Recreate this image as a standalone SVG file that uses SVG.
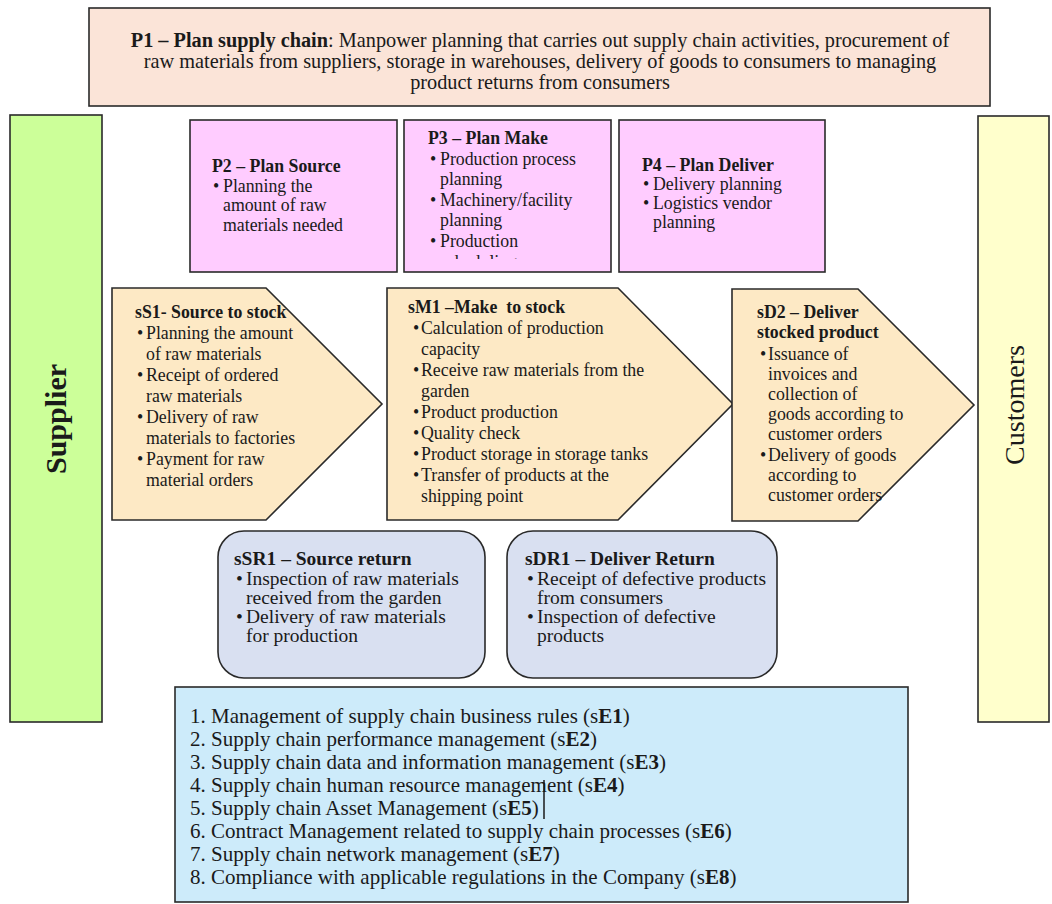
<svg xmlns="http://www.w3.org/2000/svg" width="1052" height="904" viewBox="0 0 1052 904">
<defs>
<style>
.box{stroke:#2a2a2a;stroke-width:1.6}
.t{font-family:"Liberation Serif","Times New Roman",serif;fill:#1a1a1a}
.b{font-weight:bold}
.p1{font-size:20.3px}
.pl{font-size:17.8px}
.ps{font-size:17.8px}
.rt{font-size:19.5px}
.li{font-size:21px}
</style>
<clipPath id="p3clip"><rect x="404" y="120" width="207" height="139"/></clipPath>
</defs>
<rect width="1052" height="904" fill="#ffffff"/>

<g id="p1">
<rect class="box" x="89" y="8" width="901" height="98" fill="#FBE4D8"/>
<text class="t p1" x="540" y="47" text-anchor="middle"><tspan class="b">P1 – Plan supply chain</tspan>: Manpower planning that carries out supply chain activities, procurement of</text>
<text class="t p1" x="540" y="68" text-anchor="middle">raw materials from suppliers, storage in warehouses, delivery of goods to consumers to managing</text>
<text class="t p1" x="540" y="89" text-anchor="middle">product returns from consumers</text>
</g>

<g id="supplier">
<rect class="box" x="10" y="115" width="92" height="607" fill="#CCFF99"/>
<text class="t b" x="0" y="0" font-size="30" text-anchor="middle" transform="translate(66,419) rotate(-90)">Supplier</text>
</g>

<g id="customers">
<rect class="box" x="978" y="116" width="71" height="606" fill="#FFFFCC"/>
<text class="t" x="0" y="0" font-size="28" text-anchor="middle" transform="translate(1024,405) rotate(-90)">Customers</text>
</g>

<g id="p2">
<rect class="box" x="190" y="120" width="207" height="152" fill="#FFCCFF"/>
<text class="t pl b" x="212" y="172">P2 – Plan Source</text>
<text class="t pl" x="213" y="192">•</text>
<text class="t pl" x="223" y="192">Planning the</text>
<text class="t pl" x="223" y="211">amount of raw</text>
<text class="t pl" x="223" y="231">materials needed</text>
</g>

<g id="p3">
<rect class="box" x="404" y="120" width="207" height="152" fill="#FFCCFF"/>
<text class="t pl b" x="428" y="144">P3 – Plan Make</text>
<text class="t pl" x="430" y="165">•</text>
<text class="t pl" x="440" y="165">Production process</text>
<text class="t pl" x="440" y="185">planning</text>
<text class="t pl" x="430" y="206">•</text>
<text class="t pl" x="440" y="206">Machinery/facility</text>
<text class="t pl" x="440" y="226">planning</text>
<text class="t pl" x="430" y="247">•</text>
<text class="t pl" x="440" y="247">Production</text>
<text class="t pl" x="440" y="268" clip-path="url(#p3clip)">scheduling</text>
</g>

<g id="p4">
<rect class="box" x="619" y="120" width="206" height="152" fill="#FFCCFF"/>
<text class="t pl b" x="642" y="171">P4 – Plan Deliver</text>
<text class="t pl" x="643" y="190">•</text>
<text class="t pl" x="653" y="190">Delivery planning</text>
<text class="t pl" x="643" y="209">•</text>
<text class="t pl" x="653" y="209">Logistics vendor</text>
<text class="t pl" x="653" y="228">planning</text>
</g>

<g id="sS1">
<polygon class="box" points="112,288 266,288 382,404 266,520 112,520" fill="#FDE9C5"/>
<text class="t ps b" x="135" y="318">sS1- Source to stock</text>
<text class="t ps" x="137" y="339">•</text>
<text class="t ps" x="146" y="339">Planning the amount</text>
<text class="t ps" x="146" y="360">of raw materials</text>
<text class="t ps" x="137" y="381">•</text>
<text class="t ps" x="146" y="381">Receipt of ordered</text>
<text class="t ps" x="146" y="402">raw materials</text>
<text class="t ps" x="137" y="423">•</text>
<text class="t ps" x="146" y="423">Delivery of raw</text>
<text class="t ps" x="146" y="444">materials to factories</text>
<text class="t ps" x="137" y="465">•</text>
<text class="t ps" x="146" y="465">Payment for raw</text>
<text class="t ps" x="146" y="486">material orders</text>
</g>

<g id="sM1">
<polygon class="box" points="387,288 618,288 733,404 618,520 387,520" fill="#FDE9C5"/>
<text class="t ps b" x="408" y="313">sM1 –Make&#160; to stock</text>
<text class="t ps" x="413" y="334">•</text>
<text class="t ps" x="421" y="334">Calculation of production</text>
<text class="t ps" x="421" y="355">capacity</text>
<text class="t ps" x="413" y="376">•</text>
<text class="t ps" x="421" y="376">Receive raw materials from the</text>
<text class="t ps" x="421" y="397">garden</text>
<text class="t ps" x="413" y="418">•</text>
<text class="t ps" x="421" y="418">Product production</text>
<text class="t ps" x="413" y="439">•</text>
<text class="t ps" x="421" y="439">Quality check</text>
<text class="t ps" x="413" y="460">•</text>
<text class="t ps" x="421" y="460">Product storage in storage tanks</text>
<text class="t ps" x="413" y="481">•</text>
<text class="t ps" x="421" y="481">Transfer of products at the</text>
<text class="t ps" x="421" y="502">shipping point</text>
</g>

<g id="sD2">
<polygon class="box" points="732,289 858,289 974,405 858,521 732,521" fill="#FDE9C5"/>
<text class="t ps b" x="757" y="318">sD2 – Deliver</text>
<text class="t ps b" x="757" y="338">stocked product</text>
<text class="t ps" x="760" y="360">•</text>
<text class="t ps" x="768" y="360">Issuance of</text>
<text class="t ps" x="768" y="380">invoices and</text>
<text class="t ps" x="768" y="400">collection of</text>
<text class="t ps" x="768" y="420">goods according to</text>
<text class="t ps" x="768" y="440">customer orders</text>
<text class="t ps" x="760" y="461">•</text>
<text class="t ps" x="768" y="461">Delivery of goods</text>
<text class="t ps" x="768" y="481">according to</text>
<text class="t ps" x="768" y="501">customer orders</text>
</g>

<g id="sSR1">
<rect class="box" x="218" y="531" width="267" height="147" rx="26" fill="#D9E0F1"/>
<text class="t rt b" x="234" y="565">sSR1 – Source return</text>
<text class="t rt" x="236" y="585">•</text>
<text class="t rt" x="246" y="585">Inspection of raw materials</text>
<text class="t rt" x="246" y="604">received from the garden</text>
<text class="t rt" x="236" y="623">•</text>
<text class="t rt" x="246" y="623">Delivery of raw materials</text>
<text class="t rt" x="246" y="642">for production</text>
</g>

<g id="sDR1">
<rect class="box" x="507" y="531" width="270" height="147" rx="26" fill="#D9E0F1"/>
<text class="t rt b" x="525" y="565">sDR1 – Deliver Return</text>
<text class="t rt" x="527" y="585">•</text>
<text class="t rt" x="537" y="585">Receipt of defective products</text>
<text class="t rt" x="537" y="604">from consumers</text>
<text class="t rt" x="527" y="623">•</text>
<text class="t rt" x="537" y="623">Inspection of defective</text>
<text class="t rt" x="537" y="642">products</text>
</g>

<g id="enablers">
<rect class="box" x="175" y="687" width="733" height="215" fill="#CDEBFA"/>
<text class="t li" x="190" y="723">1. Management of supply chain business rules (s<tspan class="b">E1</tspan>)</text>
<text class="t li" x="190" y="746">2. Supply chain performance management (s<tspan class="b">E2</tspan>)</text>
<text class="t li" x="190" y="769">3. Supply chain data and information management (s<tspan class="b">E3</tspan>)</text>
<text class="t li" x="190" y="792">4. Supply chain human resource management (s<tspan class="b">E4</tspan>)</text>
<text class="t li" x="190" y="815">5. Supply chain Asset Management (s<tspan class="b">E5</tspan>)</text>
<text class="t li" x="190" y="838">6. Contract Management related to supply chain processes (s<tspan class="b">E6</tspan>)</text>
<text class="t li" x="190" y="861">7. Supply chain network management (s<tspan class="b">E7</tspan>)</text>
<text class="t li" x="190" y="884">8. Compliance with applicable regulations in the Company (s<tspan class="b">E8</tspan>)</text>
<line x1="544" y1="780" x2="544" y2="819" stroke="#1a1a1a" stroke-width="1.5"/>
</g>

<g id="connectors"></g>
</svg>
